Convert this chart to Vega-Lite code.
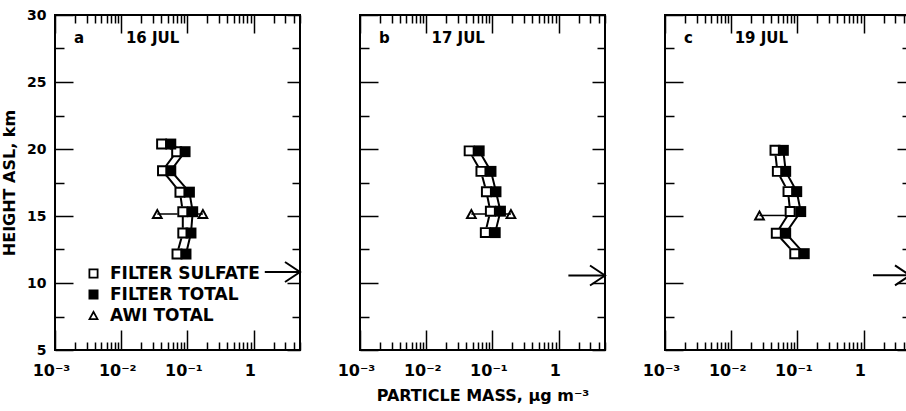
{
  "$schema": "https://vega.github.io/schema/vega-lite/v6.json",
  "background": "white",
  "padding": {"left": 0, "top": 7, "right": 0, "bottom": 0},
  "autosize": {"type": "pad"},
  "bounds": "flush",
  "spacing": 60,
  "config": {
    "font": "DejaVu Sans",
    "view": {"stroke": "black", "strokeWidth": 2},
    "axis": {"grid": false, "domain": false, "tickColor": "black", "tickWidth": 1.5, "labelFont": "DejaVu Sans", "labelFontWeight": "bold", "labelColor": "black", "titleFont": "DejaVu Sans", "titleFontWeight": "bold", "titleColor": "black", "labelFlush": false, "labelOverlap": false}
  },
  "datasets": {
    "pts": [
      {"panel": "a", "series": "FILTER SULFATE", "height": 20.37, "mass": 0.0407},
      {"panel": "a", "series": "FILTER SULFATE", "height": 19.8, "mass": 0.0687},
      {"panel": "a", "series": "FILTER SULFATE", "height": 18.38, "mass": 0.042},
      {"panel": "a", "series": "FILTER SULFATE", "height": 16.78, "mass": 0.077},
      {"panel": "a", "series": "FILTER SULFATE", "height": 15.32, "mass": 0.085},
      {"panel": "a", "series": "FILTER SULFATE", "height": 13.73, "mass": 0.085},
      {"panel": "a", "series": "FILTER SULFATE", "height": 12.16, "mass": 0.0695},
      {"panel": "a", "series": "FILTER TOTAL", "height": 20.37, "mass": 0.056},
      {"panel": "a", "series": "FILTER TOTAL", "height": 19.8, "mass": 0.092},
      {"panel": "a", "series": "FILTER TOTAL", "height": 18.38, "mass": 0.056},
      {"panel": "a", "series": "FILTER TOTAL", "height": 16.78, "mass": 0.107},
      {"panel": "a", "series": "FILTER TOTAL", "height": 15.32, "mass": 0.12},
      {"panel": "a", "series": "FILTER TOTAL", "height": 13.73, "mass": 0.113},
      {"panel": "a", "series": "FILTER TOTAL", "height": 12.16, "mass": 0.095},
      {"panel": "a", "series": "AWI TOTAL", "height": 15.15, "mass": 0.035},
      {"panel": "a", "series": "AWI TOTAL", "height": 15.15, "mass": 0.171},
      {"panel": "b", "series": "FILTER SULFATE", "height": 19.86, "mass": 0.0445},
      {"panel": "b", "series": "FILTER SULFATE", "height": 18.33, "mass": 0.067},
      {"panel": "b", "series": "FILTER SULFATE", "height": 16.81, "mass": 0.081},
      {"panel": "b", "series": "FILTER SULFATE", "height": 15.36, "mass": 0.093},
      {"panel": "b", "series": "FILTER SULFATE", "height": 13.76, "mass": 0.078},
      {"panel": "b", "series": "FILTER TOTAL", "height": 19.86, "mass": 0.063},
      {"panel": "b", "series": "FILTER TOTAL", "height": 18.33, "mass": 0.095},
      {"panel": "b", "series": "FILTER TOTAL", "height": 16.81, "mass": 0.113},
      {"panel": "b", "series": "FILTER TOTAL", "height": 15.36, "mass": 0.132},
      {"panel": "b", "series": "FILTER TOTAL", "height": 13.76, "mass": 0.11},
      {"panel": "b", "series": "AWI TOTAL", "height": 15.14, "mass": 0.048},
      {"panel": "b", "series": "AWI TOTAL", "height": 15.14, "mass": 0.19},
      {"panel": "c", "series": "FILTER SULFATE", "height": 19.9, "mass": 0.0458},
      {"panel": "c", "series": "FILTER SULFATE", "height": 18.33, "mass": 0.0497},
      {"panel": "c", "series": "FILTER SULFATE", "height": 16.82, "mass": 0.072},
      {"panel": "c", "series": "FILTER SULFATE", "height": 15.33, "mass": 0.0775},
      {"panel": "c", "series": "FILTER SULFATE", "height": 13.71, "mass": 0.0479},
      {"panel": "c", "series": "FILTER SULFATE", "height": 12.19, "mass": 0.091},
      {"panel": "c", "series": "FILTER TOTAL", "height": 19.9, "mass": 0.0612},
      {"panel": "c", "series": "FILTER TOTAL", "height": 18.33, "mass": 0.0664},
      {"panel": "c", "series": "FILTER TOTAL", "height": 16.82, "mass": 0.0975},
      {"panel": "c", "series": "FILTER TOTAL", "height": 15.33, "mass": 0.112},
      {"panel": "c", "series": "FILTER TOTAL", "height": 13.71, "mass": 0.0664},
      {"panel": "c", "series": "FILTER TOTAL", "height": 12.19, "mass": 0.1265},
      {"panel": "c", "series": "AWI TOTAL", "height": 15.04, "mass": 0.0267}
    ],
    "awi": [
      {"panel": "a", "height": 15.15, "lo": 0.035, "hi": 0.171},
      {"panel": "b", "height": 15.14, "lo": 0.048, "hi": 0.19},
      {"panel": "c", "height": 15.04, "lo": 0.0267, "hi": 0.0775}
    ],
    "arrow": [
      {"panel": "a", "height": 10.82, "from": 1.47, "to": 5},
      {"panel": "b", "height": 10.56, "from": 1.4, "to": 5},
      {"panel": "c", "height": 10.57, "from": 1.38, "to": 5}
    ]
  },
  "resolve": {"scale": {"x": "independent", "y": "independent", "shape": "independent"}},
  "hconcat": [
    {
      "width": 245, "height": 335,
      "title": {"text": "a\u00a0\u00a0\u00a0\u00a0\u00a0\u00a0\u00a0\u00a016 JUL", "anchor": "start", "frame": "group", "dx": 19, "dy": 50, "offset": 0, "baseline": "alphabetic", "fontSize": 15, "fontWeight": "bold", "font": "DejaVu Sans", "color": "black"},
      "resolve": {"axis": {"x": "independent", "y": "independent"}},
      "layer": [
        {
          "data": {"name": "pts"},
          "transform": [{"filter": "datum.panel == 'a' && datum.series == 'FILTER SULFATE'"}],
          "mark": {"type": "line", "color": "black", "strokeWidth": 2},
          "encoding": {
            "x": {"field": "mass", "type": "quantitative", "scale": {"type": "log", "domain": [0.001, 5], "nice": false},
              "axis": {"orient": "bottom", "values": [0.001,0.002,0.003,0.004,0.005,0.006,0.007,0.008,0.009,0.01,0.02,0.03,0.04,0.05,0.06,0.07,0.08,0.09,0.1,0.2,0.3,0.4,0.5,0.6,0.7,0.8,0.9,1,2,3,4,5],
                "tickSize": {"condition": {"test": "indexof([0.001,0.01,0.1,1], datum.value) >= 0", "value": -20}, "value": -8},
                "labelExpr": "datum.value == 0.001 ? '10⁻³' : datum.value == 0.01 ? '10⁻²' : datum.value == 0.1 ? '10⁻¹' : datum.value == 1 ? '1' : ''",
                "labelPadding": 32, "labelFontSize": 16, "labelOffset": -4, "title": null}},
            "y": {"field": "height", "type": "quantitative", "scale": {"domain": [5, 30], "nice": false, "zero": false},
              "axis": {"orient": "left", "values": [5,7.5,10,12.5,15,17.5,20,22.5,25,27.5,30],
                "tickSize": {"condition": {"test": "datum.value % 5 == 0", "value": -18}, "value": -9},
                "labelExpr": "datum.value % 5 == 0 ? datum.label : ''",
                "labelPadding": 27, "labelFontSize": 14, "title": "HEIGHT ASL, km", "titleFontSize": 16, "titlePadding": 9}},
            "order": {"field": "height", "type": "quantitative"}
          }
        },
        {
          "data": {"name": "pts"},
          "transform": [{"filter": "datum.panel == 'a' && datum.series == 'FILTER TOTAL'"}],
          "mark": {"type": "line", "color": "black", "strokeWidth": 2},
          "encoding": {
            "x": {"field": "mass", "type": "quantitative",
              "axis": {"orient": "top", "values": [0.001,0.002,0.003,0.004,0.005,0.006,0.007,0.008,0.009,0.01,0.02,0.03,0.04,0.05,0.06,0.07,0.08,0.09,0.1,0.2,0.3,0.4,0.5,0.6,0.7,0.8,0.9,1,2,3,4,5],
                "tickSize": {"condition": {"test": "indexof([0.001,0.01,0.1,1], datum.value) >= 0", "value": -18}, "value": -8},
                "labels": false, "title": null}},
            "y": {"field": "height", "type": "quantitative",
              "axis": {"orient": "right", "values": [5,7.5,10,12.5,15,17.5,20,22.5,25,27.5,30],
                "tickSize": {"condition": {"test": "datum.value % 5 == 0", "value": -13}, "value": -8},
                "labels": false, "title": null}},
            "order": {"field": "height", "type": "quantitative"}
          }
        },
        {
          "data": {"name": "awi"},
          "transform": [{"filter": "datum.panel == 'a'"}],
          "mark": {"type": "rule", "color": "black", "strokeWidth": 1.5},
          "encoding": {
            "x": {"field": "lo", "type": "quantitative", "axis": null},
            "x2": {"field": "hi"},
            "y": {"field": "height", "type": "quantitative", "axis": null}
          }
        },
        {
          "data": {"name": "arrow"},
          "transform": [{"filter": "datum.panel == 'a'"}],
          "mark": {"type": "rule", "color": "black", "strokeWidth": 2},
          "encoding": {
            "x": {"field": "from", "type": "quantitative", "axis": null},
            "x2": {"field": "to"},
            "y": {"field": "height", "type": "quantitative", "axis": null}
          }
        },
        {
          "data": {"name": "arrow"},
          "transform": [{"filter": "datum.panel == 'a'"}],
          "mark": {"type": "point", "shape": "M-1.5,-1L0,0L-1.5,1", "size": 400, "filled": false, "stroke": "black", "strokeWidth": 2, "opacity": 1},
          "encoding": {
            "x": {"field": "to", "type": "quantitative", "axis": null},
            "y": {"field": "height", "type": "quantitative", "axis": null}
          }
        },
        {
          "data": {"name": "pts"},
          "transform": [{"filter": "datum.panel == 'a' && datum.series == 'FILTER SULFATE'"}],
          "mark": {"type": "point", "shape": "square", "filled": true, "color": "white", "size": 110, "opacity": 1},
          "encoding": {
            "x": {"field": "mass", "type": "quantitative", "axis": null},
            "y": {"field": "height", "type": "quantitative", "axis": null}
          }
        },
        {
          "data": {"name": "pts"},
          "transform": [{"filter": "datum.panel == 'a'"}],
          "mark": {"type": "point", "filled": true, "color": "black", "size": 120, "opacity": 1},
          "encoding": {
            "x": {"field": "mass", "type": "quantitative", "axis": null},
            "y": {"field": "height", "type": "quantitative", "axis": null},
            "shape": {"field": "series", "type": "nominal", "scale": {"domain": ["FILTER SULFATE", "FILTER TOTAL", "AWI TOTAL"], "range": ["M-1,-1H1V1H-1ZM-0.64,-0.64V0.64H0.64V-0.64Z", "M-1,-1H1V1H-1Z", "M0,-1.1L1.1,0.9H-1.1ZM0,-0.374L-0.508,0.55H0.508Z"]},
              "legend": {"title": null, "orient": "none", "legendX": 30, "legendY": 250, "padding": 0, "labelFont": "DejaVu Sans", "labelFontWeight": "bold", "labelFontSize": 17, "labelColor": "black", "symbolFillColor": "black", "symbolSize": 100, "symbolOpacity": 1, "symbolStrokeWidth": 0, "rowPadding": 3, "labelOffset": 8}}
          }
        }
      ]
    },
    {
      "width": 245, "height": 335,
      "title": {"text": "b\u00a0\u00a0\u00a0\u00a0\u00a0\u00a0\u00a0\u00a017 JUL", "anchor": "start", "frame": "group", "dx": 19, "dy": 44, "offset": 0, "baseline": "alphabetic", "fontSize": 15, "fontWeight": "bold", "font": "DejaVu Sans", "color": "black"},
      "resolve": {"axis": {"x": "independent", "y": "independent"}},
      "layer": [
        {
          "data": {"name": "pts"},
          "transform": [{"filter": "datum.panel == 'b' && datum.series == 'FILTER SULFATE'"}],
          "mark": {"type": "line", "color": "black", "strokeWidth": 2},
          "encoding": {
            "x": {"field": "mass", "type": "quantitative", "scale": {"type": "log", "domain": [0.001, 5], "nice": false},
              "axis": {"orient": "bottom", "values": [0.001,0.002,0.003,0.004,0.005,0.006,0.007,0.008,0.009,0.01,0.02,0.03,0.04,0.05,0.06,0.07,0.08,0.09,0.1,0.2,0.3,0.4,0.5,0.6,0.7,0.8,0.9,1,2,3,4,5],
                "tickSize": {"condition": {"test": "indexof([0.001,0.01,0.1,1], datum.value) >= 0", "value": -20}, "value": -8},
                "labelExpr": "datum.value == 0.001 ? '10⁻³' : datum.value == 0.01 ? '10⁻²' : datum.value == 0.1 ? '10⁻¹' : datum.value == 1 ? '1' : ''",
                "labelPadding": 32, "labelFontSize": 16, "labelOffset": -4, "title": "PARTICLE MASS, µg m⁻³", "titleFontSize": 16, "titlePadding": -3}},
            "y": {"field": "height", "type": "quantitative", "scale": {"domain": [5, 30], "nice": false, "zero": false},
              "axis": {"orient": "left", "values": [5,7.5,10,12.5,15,17.5,20,22.5,25,27.5,30],
                "tickSize": {"condition": {"test": "datum.value % 5 == 0", "value": -18}, "value": -9},
                "labels": false, "title": null}},
            "order": {"field": "height", "type": "quantitative"}
          }
        },
        {
          "data": {"name": "pts"},
          "transform": [{"filter": "datum.panel == 'b' && datum.series == 'FILTER TOTAL'"}],
          "mark": {"type": "line", "color": "black", "strokeWidth": 2},
          "encoding": {
            "x": {"field": "mass", "type": "quantitative",
              "axis": {"orient": "top", "values": [0.001,0.002,0.003,0.004,0.005,0.006,0.007,0.008,0.009,0.01,0.02,0.03,0.04,0.05,0.06,0.07,0.08,0.09,0.1,0.2,0.3,0.4,0.5,0.6,0.7,0.8,0.9,1,2,3,4,5],
                "tickSize": {"condition": {"test": "indexof([0.001,0.01,0.1,1], datum.value) >= 0", "value": -18}, "value": -8},
                "labels": false, "title": null}},
            "y": {"field": "height", "type": "quantitative",
              "axis": {"orient": "right", "values": [5,7.5,10,12.5,15,17.5,20,22.5,25,27.5,30],
                "tickSize": {"condition": {"test": "datum.value % 5 == 0", "value": -13}, "value": -8},
                "labels": false, "title": null}},
            "order": {"field": "height", "type": "quantitative"}
          }
        },
        {
          "data": {"name": "awi"},
          "transform": [{"filter": "datum.panel == 'b'"}],
          "mark": {"type": "rule", "color": "black", "strokeWidth": 1.5},
          "encoding": {
            "x": {"field": "lo", "type": "quantitative", "axis": null},
            "x2": {"field": "hi"},
            "y": {"field": "height", "type": "quantitative", "axis": null}
          }
        },
        {
          "data": {"name": "arrow"},
          "transform": [{"filter": "datum.panel == 'b'"}],
          "mark": {"type": "rule", "color": "black", "strokeWidth": 2},
          "encoding": {
            "x": {"field": "from", "type": "quantitative", "axis": null},
            "x2": {"field": "to"},
            "y": {"field": "height", "type": "quantitative", "axis": null}
          }
        },
        {
          "data": {"name": "arrow"},
          "transform": [{"filter": "datum.panel == 'b'"}],
          "mark": {"type": "point", "shape": "M-1.5,-1L0,0L-1.5,1", "size": 400, "filled": false, "stroke": "black", "strokeWidth": 2, "opacity": 1},
          "encoding": {
            "x": {"field": "to", "type": "quantitative", "axis": null},
            "y": {"field": "height", "type": "quantitative", "axis": null}
          }
        },
        {
          "data": {"name": "pts"},
          "transform": [{"filter": "datum.panel == 'b' && datum.series == 'FILTER SULFATE'"}],
          "mark": {"type": "point", "shape": "square", "filled": true, "color": "white", "size": 110, "opacity": 1},
          "encoding": {
            "x": {"field": "mass", "type": "quantitative", "axis": null},
            "y": {"field": "height", "type": "quantitative", "axis": null}
          }
        },
        {
          "data": {"name": "pts"},
          "transform": [{"filter": "datum.panel == 'b'"}],
          "mark": {"type": "point", "filled": true, "color": "black", "size": 120, "opacity": 1},
          "encoding": {
            "x": {"field": "mass", "type": "quantitative", "axis": null},
            "y": {"field": "height", "type": "quantitative", "axis": null},
            "shape": {"field": "series", "type": "nominal", "scale": {"domain": ["FILTER SULFATE", "FILTER TOTAL", "AWI TOTAL"], "range": ["M-1,-1H1V1H-1ZM-0.64,-0.64V0.64H0.64V-0.64Z", "M-1,-1H1V1H-1Z", "M0,-1.1L1.1,0.9H-1.1ZM0,-0.374L-0.508,0.55H0.508Z"]}, "legend": null}
          }
        }
      ]
    },
    {
      "width": 245, "height": 335,
      "title": {"text": "c\u00a0\u00a0\u00a0\u00a0\u00a0\u00a0\u00a0\u00a019 JUL", "anchor": "start", "frame": "group", "dx": 19, "dy": 44, "offset": 0, "baseline": "alphabetic", "fontSize": 15, "fontWeight": "bold", "font": "DejaVu Sans", "color": "black"},
      "resolve": {"axis": {"x": "independent", "y": "independent"}},
      "layer": [
        {
          "data": {"name": "pts"},
          "transform": [{"filter": "datum.panel == 'c' && datum.series == 'FILTER SULFATE'"}],
          "mark": {"type": "line", "color": "black", "strokeWidth": 2},
          "encoding": {
            "x": {"field": "mass", "type": "quantitative", "scale": {"type": "log", "domain": [0.001, 5], "nice": false},
              "axis": {"orient": "bottom", "values": [0.001,0.002,0.003,0.004,0.005,0.006,0.007,0.008,0.009,0.01,0.02,0.03,0.04,0.05,0.06,0.07,0.08,0.09,0.1,0.2,0.3,0.4,0.5,0.6,0.7,0.8,0.9,1,2,3,4,5],
                "tickSize": {"condition": {"test": "indexof([0.001,0.01,0.1,1], datum.value) >= 0", "value": -20}, "value": -8},
                "labelExpr": "datum.value == 0.001 ? '10⁻³' : datum.value == 0.01 ? '10⁻²' : datum.value == 0.1 ? '10⁻¹' : datum.value == 1 ? '1' : ''",
                "labelPadding": 32, "labelFontSize": 16, "labelOffset": -4, "title": null}},
            "y": {"field": "height", "type": "quantitative", "scale": {"domain": [5, 30], "nice": false, "zero": false},
              "axis": {"orient": "left", "values": [5,7.5,10,12.5,15,17.5,20,22.5,25,27.5,30],
                "tickSize": {"condition": {"test": "datum.value % 5 == 0", "value": -18}, "value": -9},
                "labels": false, "title": null}},
            "order": {"field": "height", "type": "quantitative"}
          }
        },
        {
          "data": {"name": "pts"},
          "transform": [{"filter": "datum.panel == 'c' && datum.series == 'FILTER TOTAL'"}],
          "mark": {"type": "line", "color": "black", "strokeWidth": 2},
          "encoding": {
            "x": {"field": "mass", "type": "quantitative",
              "axis": {"orient": "top", "values": [0.001,0.002,0.003,0.004,0.005,0.006,0.007,0.008,0.009,0.01,0.02,0.03,0.04,0.05,0.06,0.07,0.08,0.09,0.1,0.2,0.3,0.4,0.5,0.6,0.7,0.8,0.9,1,2,3,4,5],
                "tickSize": {"condition": {"test": "indexof([0.001,0.01,0.1,1], datum.value) >= 0", "value": -18}, "value": -8},
                "labels": false, "title": null}},
            "y": {"field": "height", "type": "quantitative",
              "axis": {"orient": "right", "values": [5,7.5,10,12.5,15,17.5,20,22.5,25,27.5,30],
                "tickSize": {"condition": {"test": "datum.value % 5 == 0", "value": -13}, "value": -8},
                "labels": false, "title": null}},
            "order": {"field": "height", "type": "quantitative"}
          }
        },
        {
          "data": {"name": "awi"},
          "transform": [{"filter": "datum.panel == 'c'"}],
          "mark": {"type": "rule", "color": "black", "strokeWidth": 1.5},
          "encoding": {
            "x": {"field": "lo", "type": "quantitative", "axis": null},
            "x2": {"field": "hi"},
            "y": {"field": "height", "type": "quantitative", "axis": null}
          }
        },
        {
          "data": {"name": "arrow"},
          "transform": [{"filter": "datum.panel == 'c'"}],
          "mark": {"type": "rule", "color": "black", "strokeWidth": 2},
          "encoding": {
            "x": {"field": "from", "type": "quantitative", "axis": null},
            "x2": {"field": "to"},
            "y": {"field": "height", "type": "quantitative", "axis": null}
          }
        },
        {
          "data": {"name": "arrow"},
          "transform": [{"filter": "datum.panel == 'c'"}],
          "mark": {"type": "point", "shape": "M-1.5,-1L0,0L-1.5,1", "size": 400, "filled": false, "stroke": "black", "strokeWidth": 2, "opacity": 1},
          "encoding": {
            "x": {"field": "to", "type": "quantitative", "axis": null},
            "y": {"field": "height", "type": "quantitative", "axis": null}
          }
        },
        {
          "data": {"name": "pts"},
          "transform": [{"filter": "datum.panel == 'c' && datum.series == 'FILTER SULFATE'"}],
          "mark": {"type": "point", "shape": "square", "filled": true, "color": "white", "size": 110, "opacity": 1},
          "encoding": {
            "x": {"field": "mass", "type": "quantitative", "axis": null},
            "y": {"field": "height", "type": "quantitative", "axis": null}
          }
        },
        {
          "data": {"name": "pts"},
          "transform": [{"filter": "datum.panel == 'c'"}],
          "mark": {"type": "point", "filled": true, "color": "black", "size": 120, "opacity": 1},
          "encoding": {
            "x": {"field": "mass", "type": "quantitative", "axis": null},
            "y": {"field": "height", "type": "quantitative", "axis": null},
            "shape": {"field": "series", "type": "nominal", "scale": {"domain": ["FILTER SULFATE", "FILTER TOTAL", "AWI TOTAL"], "range": ["M-1,-1H1V1H-1ZM-0.64,-0.64V0.64H0.64V-0.64Z", "M-1,-1H1V1H-1Z", "M0,-1.1L1.1,0.9H-1.1ZM0,-0.374L-0.508,0.55H0.508Z"]}, "legend": null}
          }
        }
      ]
    }
  ]
}
